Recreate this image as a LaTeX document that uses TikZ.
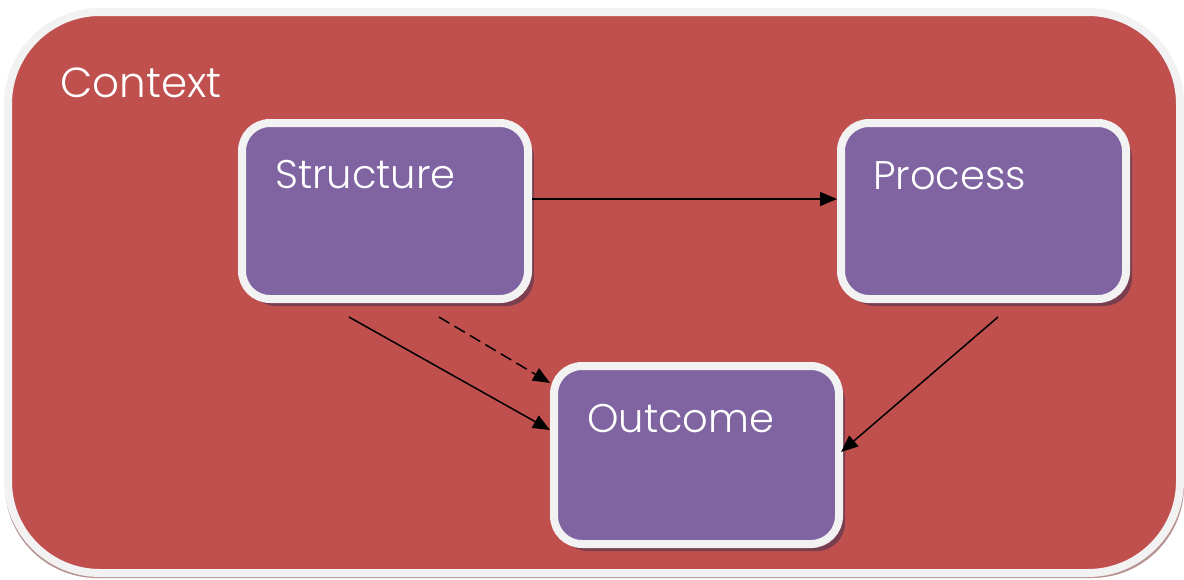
\documentclass[tikz,border=0pt]{standalone}
\usepackage{fontspec}
\setmainfont{Poppins Light}
\usetikzlibrary{arrows.meta,shadows}
\definecolor{ctxred}{HTML}{C0504D}
\definecolor{boxpurple}{HTML}{8064A2}
\definecolor{rim}{HTML}{F2F2F2}
\definecolor{ctxshadow}{HTML}{B89392}
\definecolor{boxshadow}{HTML}{7A3F4E}
\begin{document}
\begin{tikzpicture}[x=1pt,y=-1pt,
  stage/.style={rectangle, rounded corners=28pt, draw=rim, line width=8pt,
    fill=boxpurple, minimum height=176pt,
    drop shadow={shadow xshift=6pt, shadow yshift=-7pt, fill=boxshadow, opacity=1}},
  caption/.style={anchor=base west, text=white, inner sep=0pt, font=\fontsize{40}{44}\selectfont},
  link/.style={line width=1.5pt, -{Triangle[length=17pt,width=14pt]}}
]
\useasboundingbox (0,0) rectangle (1184,579);
% context panel
\fill[ctxshadow, rounded corners=92pt] (5,16) rectangle (1184,578);
\draw[rim, line width=8pt, fill=ctxred, rounded corners=92pt] (8,12) rectangle (1180,573);
\node[caption, font=\fontsize{42}{46}\selectfont] (context) at (60,97) {Context};
% the three stages
\node[stage, minimum width=286pt] (structure) at (385,211) {};
\node[stage, minimum width=285pt] (process) at (983.5,211) {};
\node[stage, minimum width=285pt, minimum height=178pt] (outcome) at (696.5,455) {};
\node[caption] (structure-text) at (275,188) {Structure};
\node[caption] (process-text) at (873,189) {Process};
\node[caption] (outcome-text) at (587,432) {Outcome};
% connectors
\draw[link] ([yshift=12pt]structure.east) -- ([yshift=12pt]process.west);
\draw[link] ([xshift=-36pt,yshift=-14pt]structure.south) -- ([yshift=25pt]outcome.west);
\draw[link, dash pattern=on 12pt off 6pt] ([xshift=54pt,yshift=-14pt]structure.south) -- ([yshift=-21pt]outcome.north west);
\draw[link] ([xshift=14.5pt,yshift=-14pt]process.south) -- ([xshift=-2pt,yshift=3pt]outcome.east);
\end{tikzpicture}
\end{document}
